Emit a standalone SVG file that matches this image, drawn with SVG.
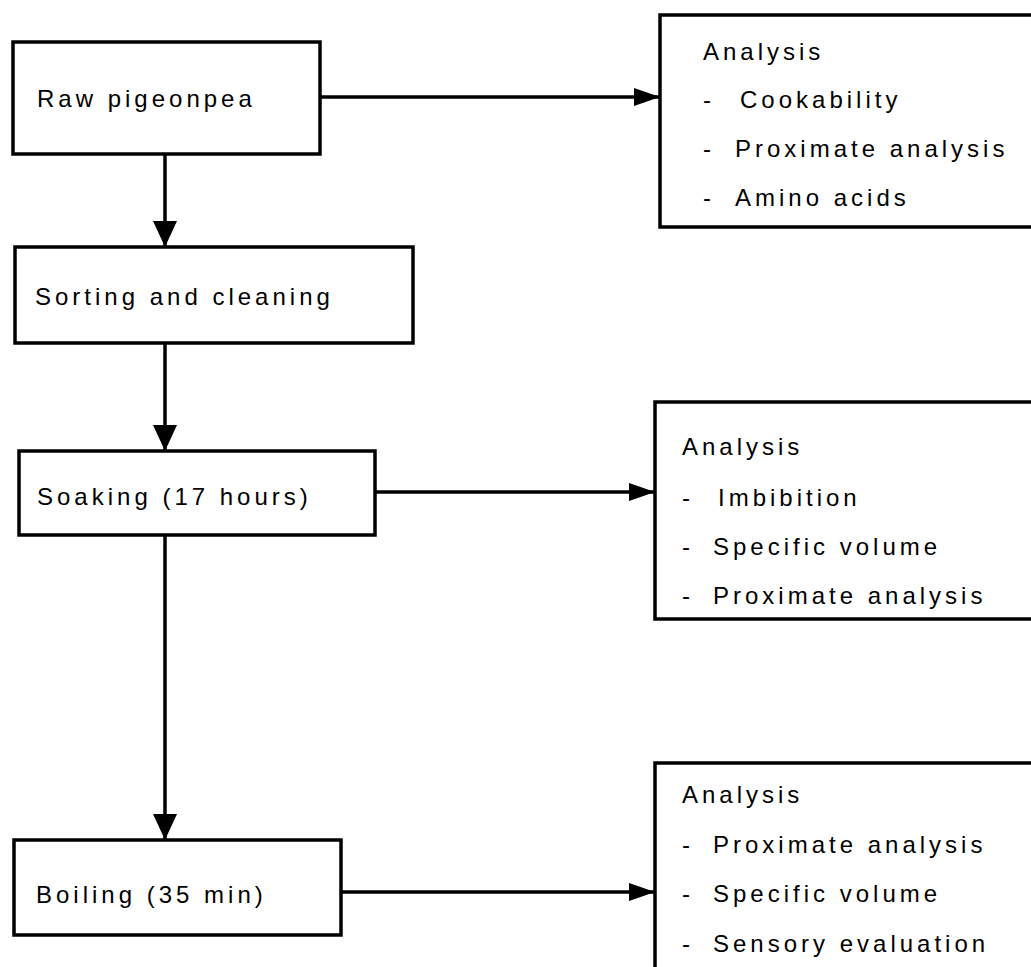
<svg xmlns="http://www.w3.org/2000/svg" width="1031" height="967" viewBox="0 0 1031 967">
<style>
.box{fill:#fff;stroke:#000;stroke-width:3.5}
.t{font-family:"Liberation Sans",Arial,sans-serif;font-size:24px;letter-spacing:4px;fill:#000}
.c{stroke:#000;stroke-width:3.5;fill:none}
</style>
<defs>
<marker id="ad" viewBox="0 0 26 24" refX="26" refY="12" markerWidth="26" markerHeight="24" markerUnits="userSpaceOnUse" orient="auto">
<path d="M0,0 L26,12 L0,24 Z" fill="#000"/>
</marker>
<marker id="ar" viewBox="0 0 26 18" refX="26" refY="9" markerWidth="26" markerHeight="18" markerUnits="userSpaceOnUse" orient="auto">
<path d="M0,0 L26,9 L0,18 Z" fill="#000"/>
</marker>
</defs>
<rect width="1031" height="967" fill="#fff"/>
<g id="connectors">
<line class="c" x1="165" y1="154" x2="165" y2="247" marker-end="url(#ad)"/>
<line class="c" x1="165" y1="343" x2="165" y2="451" marker-end="url(#ad)"/>
<line class="c" x1="165" y1="535" x2="165" y2="840" marker-end="url(#ad)"/>
<line class="c" x1="320" y1="97" x2="660" y2="97" marker-end="url(#ar)"/>
<line class="c" x1="375" y1="492" x2="655" y2="492" marker-end="url(#ar)"/>
<line class="c" x1="341" y1="892" x2="655" y2="892" marker-end="url(#ar)"/>
</g>
<g id="raw">
<rect class="box" x="13" y="42" width="307" height="112"/>
<text class="t" x="37" y="107">Raw pigeonpea</text>
</g>
<g id="sorting">
<rect class="box" x="15" y="247" width="398" height="96"/>
<text class="t" x="35" y="305">Sorting and cleaning</text>
</g>
<g id="soaking">
<rect class="box" x="19" y="451" width="356" height="84"/>
<text class="t" x="37" y="505">Soaking (17 hours)</text>
</g>
<g id="boiling">
<rect class="box" x="14" y="840" width="327" height="95"/>
<text class="t" x="36" y="903">Boiling (35 min)</text>
</g>
<g id="analysis1">
<rect class="box" x="660" y="15" width="390" height="212"/>
<text class="t" x="703" y="60">Analysis</text>
<text class="t"><tspan x="703" y="108">-</tspan><tspan x="740" y="108">Cookability</tspan></text>
<text class="t"><tspan x="703" y="157">-</tspan><tspan x="735" y="157">Proximate analysis</tspan></text>
<text class="t"><tspan x="703" y="206">-</tspan><tspan x="735" y="206">Amino acids</tspan></text>
</g>
<g id="analysis2">
<rect class="box" x="655" y="402" width="395" height="217"/>
<text class="t" x="682" y="455">Analysis</text>
<text class="t"><tspan x="682" y="506">-</tspan><tspan x="718" y="506">Imbibition</tspan></text>
<text class="t"><tspan x="682" y="555">-</tspan><tspan x="713" y="555">Specific volume</tspan></text>
<text class="t"><tspan x="682" y="604">-</tspan><tspan x="713" y="604">Proximate analysis</tspan></text>
</g>
<g id="analysis3">
<rect class="box" x="655" y="763" width="395" height="220"/>
<text class="t" x="682" y="803">Analysis</text>
<text class="t"><tspan x="682" y="853">-</tspan><tspan x="713" y="853">Proximate analysis</tspan></text>
<text class="t"><tspan x="682" y="902">-</tspan><tspan x="713" y="902">Specific volume</tspan></text>
<text class="t"><tspan x="682" y="952">-</tspan><tspan x="713" y="952">Sensory evaluation</tspan></text>
</g>
</svg>
